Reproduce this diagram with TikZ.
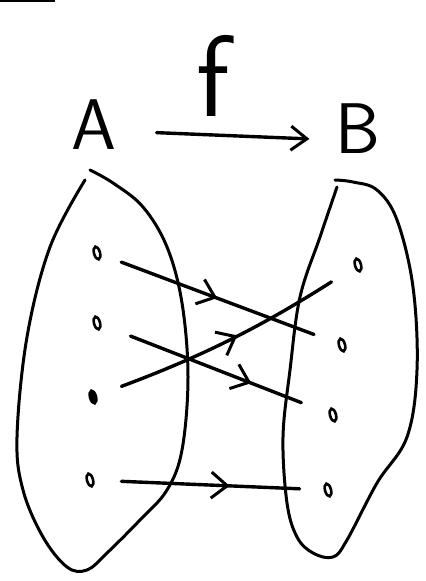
\documentclass[tikz,border=0pt]{standalone}
\usepackage{tikz}
\usetikzlibrary{arrows.meta,positioning,calc,decorations.markings,shapes.geometric}

\tikzset{
  elem/.style={ellipse, draw, line width=2.6bp, inner sep=0pt, minimum width=6bp, minimum height=13bp, rotate=15},
  setline/.style={line width=3bp, line cap=round, line join=round},
  letter/.style={font=\sffamily\fontsize{72}{72}\selectfont, inner sep=0pt},
  maparrow/.style={line width=3.4bp, line cap=round, postaction={decorate},
    decoration={markings, mark=at position #1 with {\arrow{Straight Barb[length=16bp,width=26bp,line width=3bp]}}}}
}

\begin{document}
\begin{tikzpicture}[x=1bp, y=-1bp]
    \useasboundingbox (0,0) rectangle (425,581);
    \draw[line width=3bp] (0,1) -- (55,1);
    % sets and map name
    \node[letter] (A) at (94,125) {A};
    \node[letter] (B) at (358,129) {B};
    \node[letter, font=\sffamily\fontsize{116}{116}\selectfont] (f) at (213,76) {f};
    \draw[line width=3.4bp, line cap=round, -{Straight Barb[length=16bp,width=24bp,line width=3bp]},
      shorten <=40bp, shorten >=26bp] ([yshift=-6bp]A.east) -- ([yshift=-11bp]B.west);
    \draw[setline] plot[smooth, tension=0.6] coordinates {(85,180) (50,247) (27,337) (17,437) (23,490) (43,537) (67,567) (87,570) (107,553) (140,520) (167,490) (182,450) (188,377) (182,303) (167,247) (143,207) (113,183) (90,170)};
    \draw[setline] plot[smooth, tension=0.6] coordinates {(337,187) (320,237) (300,297) (290,370) (283,437) (287,503) (297,537) (313,553) (333,557) (347,540) (377,483) (407,437) (417,370) (413,287) (397,220) (377,190) (353,182) (335,180)};
    % elements
    \node[elem] (a1) at (97,253) {};
    \node[elem] (a2) at (97,323) {};
    \node[elem, fill] (a3) at (93,397) {};
    \node[elem] (a4) at (90,480) {};
    \node[elem] (b1) at (358,265) {};
    \node[elem] (b2) at (342,345) {};
    \node[elem] (b3) at (333,415) {};
    \node[elem] (b4) at (328,490) {};
    \draw[maparrow=0.49, shorten <=21bp, shorten >=25bp] (a1) -- (b2);
    \draw[maparrow=0.66, shorten <=31bp, shorten >=29bp] (a2) -- (b3);
    \draw[maparrow=0.53, shorten <=26bp, shorten >=27bp] (a3) to[bend right=6] (b1);
    \draw[maparrow=0.59, shorten <=27bp, shorten >=24bp] (a4) -- (b4);
\end{tikzpicture}
\end{document}
